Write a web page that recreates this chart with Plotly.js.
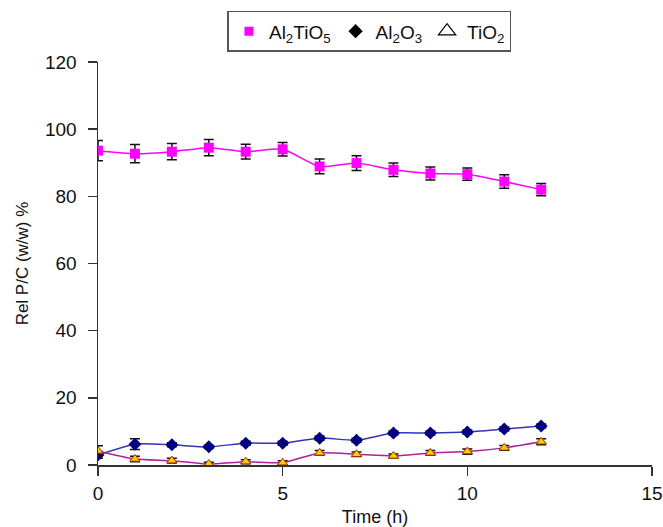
<!DOCTYPE html>
<html>
<head>
<meta charset="utf-8">
<script src="https://cdn.plot.ly/plotly-3.0.1.min.js"></script>
<style>html,body{margin:0;padding:0;background:#fff;}#chart{width:663px;height:527px;}</style>
</head>
<body>
<div id="chart"></div>
<script>
var time = [0,1,2,3,4,5,6,7,8,9,10,11,12];
var al2tio5 = [93.6,92.7,93.3,94.5,93.3,94.0,88.9,89.9,87.9,86.8,86.6,84.4,82.0];
var al2tio5Err = [3.0,2.7,2.4,2.4,2.2,2.0,2.2,2.2,2.0,1.9,1.8,2.0,1.8];
var al2o3 = [3.0,6.2,6.0,5.4,6.5,6.5,8.0,7.4,9.5,9.5,9.8,10.7,11.6];
var al2o3Err = [1.0,1.6,0.6,0.5,0.6,0.6,0.6,0.6,0.6,0.6,0.6,0.6,0.6];
var tio2 = [4.2,1.8,1.3,0.3,1.0,0.7,3.6,3.2,2.7,3.6,4.0,5.1,6.9];
var tio2Err = [1.5,0.8,0.7,0.5,0.6,0.6,0.7,0.7,0.6,0.7,0.8,0.7,0.9];
var names = ['Al<sub>2</sub>TiO<sub>5</sub>','Al<sub>2</sub>O<sub>3</sub>','TiO<sub>2</sub>'];

var errStyle = function(arr){return {type:'data',array:arr,visible:true,color:'#111',thickness:1.5,width:5};};

var traces = [
  {x:time,y:al2tio5,mode:'lines+markers',showlegend:false,error_y:errStyle(al2tio5Err),
   line:{color:'#ff00ff',width:1.5,shape:'spline',smoothing:0.6},marker:{symbol:'square',size:10,color:'#ff00ff'}},
  {x:time,y:al2o3,mode:'lines+markers',showlegend:false,error_y:errStyle(al2o3Err),
   line:{color:'#3333bb',width:1.5,shape:'spline',smoothing:0.6},marker:{symbol:'diamond',size:10,color:'#000080'}},
  {x:time,y:tio2,mode:'lines+markers',showlegend:false,error_y:errStyle(tio2Err),
   line:{color:'#aa2299',width:1.5,shape:'spline',smoothing:0.6},marker:{symbol:'triangle-up',size:9,color:'#ffcc00',line:{color:'#993300',width:1}}},
  {x:[null],y:[null],mode:'markers',name:names[0],marker:{symbol:'square',size:9,color:'#ff00ff'}},
  {x:[null],y:[null],mode:'markers',name:names[1],marker:{symbol:'diamond',size:11,color:'#000'}},
  {x:[null],y:[null],mode:'markers',name:names[2],marker:{symbol:'triangle-up-open',size:15,color:'#000',line:{width:1.2}}}
];

var layout = {
  width:663,height:527,
  margin:{l:98,r:11,t:60,b:62},
  paper_bgcolor:'#fff',plot_bgcolor:'#fff',
  font:{family:'Liberation Sans, Arial, sans-serif',size:18,color:'#111'},
  showlegend:true,
  legend:{orientation:'h',x:0.49,xanchor:'center',y:1.127,yanchor:'top',
          bordercolor:'#555',borderwidth:1.5,bgcolor:'#fff',font:{size:19},itemwidth:30,tracegroupgap:0},
  xaxis:{range:[0,15],tickvals:[0,5,10,15],ticks:'outside',ticklen:9,tickwidth:1.5,tickcolor:'#333',
         showline:true,linecolor:'#333',linewidth:1.5,showgrid:false,zeroline:false,
         tickfont:{size:19},ticklabelstandoff:2,
         title:{text:'Time (h)',font:{size:18},standoff:8}},
  yaxis:{range:[0,120],tickvals:[0,20,40,60,80,100,120],ticks:'outside',ticklen:9,tickwidth:1.5,tickcolor:'#333',
         showline:true,linecolor:'#333',linewidth:1.5,showgrid:false,zeroline:false,
         tickfont:{size:19},ticklabelstandoff:7,
         title:{text:'Rel P/C (w/w) %',font:{size:17},standoff:12}}
};
Plotly.newPlot('chart',traces,layout,{displayModeBar:false,staticPlot:true});
</script>
</body>
</html>
